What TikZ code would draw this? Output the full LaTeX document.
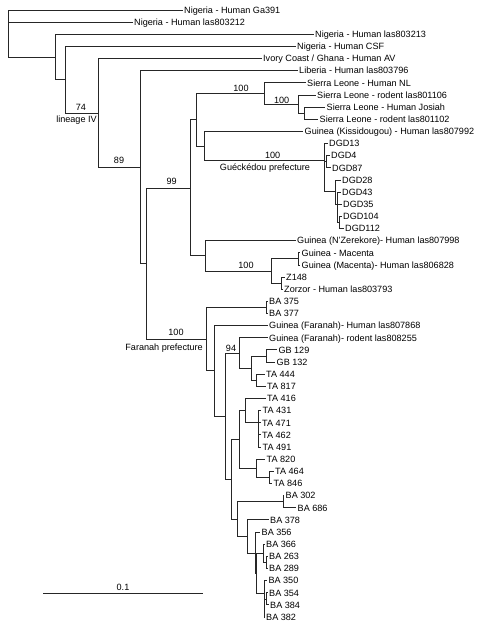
\documentclass[tikz,border=0pt]{standalone}
\usepackage{fontspec}
\setmainfont{Liberation Sans}
\tikzset{
  branch/.style={line width=0.9pt, black!85},
  leaf/.style={anchor=west, inner sep=1.5pt, text height=6.5pt, text depth=0pt},
  boot/.style={inner sep=0pt, text height=6.5pt, text depth=0pt},
}
\begin{document}
\begin{tikzpicture}[x=1pt, y=-1pt, font=\fontsize{9.1}{11}\selectfont]
            \useasboundingbox (0,0) rectangle (480,628);
            % Leaves
            \node[leaf] (ga391) at (182.5,10.0) {Nigeria - Human Ga391};
            \node[leaf] (l803212) at (132.5,22.1) {Nigeria - Human las803212};
            \node[leaf] (l803213) at (313.5,34.3) {Nigeria - Human las803213};
            \node[leaf] (csf) at (295.5,46.4) {Nigeria - Human CSF};
            \node[leaf] (av) at (261.5,58.6) {Ivory Coast / Ghana - Human AV};
            \node[leaf] (l803796) at (297.5,70.7) {Liberia - Human las803796};
            \node[leaf] (nl) at (305.5,82.8) {Sierra Leone - Human NL};
            \node[leaf] (l801106) at (315.5,95.0) {Sierra Leone - rodent las801106};
            \node[leaf] (josiah) at (325,107.1) {Sierra Leone - Human Josiah};
            \node[leaf] (l801102) at (318,119.3) {Sierra Leone - rodent las801102};
            \node[leaf] (l807992) at (303,131.4) {Guinea (Kissidougou) - Human las807992};
            \node[leaf] (dgd13) at (327.5,143.5) {DGD13};
            \node[leaf] (dgd4) at (329.5,155.7) {DGD4};
            \node[leaf] (dgd87) at (330.5,167.8) {DGD87};
            \node[leaf] (dgd28) at (340.5,180.0) {DGD28};
            \node[leaf] (dgd43) at (340.5,192.1) {DGD43};
            \node[leaf] (dgd35) at (341.5,204.2) {DGD35};
            \node[leaf] (dgd104) at (341.5,216.4) {DGD104};
            \node[leaf] (dgd112) at (343.5,228.5) {DGD112};
            \node[leaf] (l807998) at (295.5,240.7) {Guinea (N'Zerekore)- Human las807998};
            \node[leaf] (macenta) at (300,252.8) {Guinea - Macenta};
            \node[leaf] (l806828) at (300,265.0) {Guinea (Macenta)- Human las806828};
            \node[leaf] (z148) at (284.5,277.1) {Z148};
            \node[leaf] (l803793) at (282.5,289.2) {Zorzor - Human las803793};
            \node[leaf] (ba375) at (267.5,301.4) {BA 375};
            \node[leaf] (ba377) at (267.5,313.5) {BA 377};
            \node[leaf] (l807868) at (267.5,325.6) {Guinea (Faranah)- Human las807868};
            \node[leaf] (l808255) at (267.5,337.8) {Guinea (Faranah)- rodent las808255};
            \node[leaf] (gb129) at (276.8,349.9) {GB 129};
            \node[leaf] (gb132) at (275,362.1) {GB 132};
            \node[leaf] (ta444) at (264.5,374.2) {TA 444};
            \node[leaf] (ta817) at (265.5,386.4) {TA 817};
            \node[leaf] (ta416) at (265.5,398.5) {TA 416};
            \node[leaf] (ta431) at (261,410.6) {TA 431};
            \node[leaf] (ta471) at (260.5,422.8) {TA 471};
            \node[leaf] (ta462) at (260.5,434.9) {TA 462};
            \node[leaf] (ta491) at (261,447.1) {TA 491};
            \node[leaf] (ta820) at (265,459.2) {TA 820};
            \node[leaf] (ta464) at (273.5,471.4) {TA 464};
            \node[leaf] (ta846) at (272,483.5) {TA 846};
            \node[leaf] (ba302) at (284,495.6) {BA 302};
            \node[leaf] (ba686) at (296,507.8) {BA 686};
            \node[leaf] (ba378) at (268.5,519.9) {BA 378};
            \node[leaf] (ba356) at (260,532.1) {BA 356};
            \node[leaf] (ba366) at (264.5,544.2) {BA 366};
            \node[leaf] (ba263) at (267.5,556.4) {BA 263};
            \node[leaf] (ba289) at (267.5,568.5) {BA 289};
            \node[leaf] (ba350) at (266.8,580.6) {BA 350};
            \node[leaf] (ba354) at (267.5,592.8) {BA 354};
            \node[leaf] (ba384) at (268.5,604.9) {BA 384};
            \node[leaf] (ba382) at (264.5,617.1) {BA 382};

            % Inner nodes
            \coordinate (root) at (8,33.5);
            \coordinate (nA) at (55,57);
            \coordinate (nB) at (65,79);
            \coordinate (nC) at (98,113);
            \coordinate (nD) at (140,167);
            \coordinate (nE) at (146,263);
            \coordinate (nG) at (190.5,188);
            \coordinate (nH) at (196,119.5);
            \coordinate (nI) at (264,93);
            \coordinate (nJ) at (298,104);
            \coordinate (nK) at (304,113.2);
            \coordinate (nL) at (204,146);
            \coordinate (nM) at (324.5,160);
            \coordinate (nN) at (326.5,161.7);
            \coordinate (nO) at (335,191);
            \coordinate (nO2) at (337.5,204);
            \coordinate (nO3) at (339,222.5);
            \coordinate (nP) at (205.5,255.8);
            \coordinate (nQ) at (271,271);
            \coordinate (nR) at (298,258.9);
            \coordinate (nS) at (281.5,283.2);
            \coordinate (nF) at (206,339.5);
            \coordinate (nT) at (266,307.5);
            \coordinate (nU) at (214,370.9);
            \coordinate (nV) at (225,416);
            \coordinate (nW) at (239,353);
            \coordinate (nW2) at (251,368.2);
            \coordinate (nW3) at (266,356);
            \coordinate (nW4) at (256.5,380.3);
            \coordinate (nX) at (231,479);
            \coordinate (nY) at (239,439.3);
            \coordinate (nY1) at (245,410.6);
            \coordinate (nY2) at (258,422);
            \coordinate (nY3) at (256,468.3);
            \coordinate (nY4) at (269.3,477.5);
            \coordinate (nZ) at (237,519);
            \coordinate (nZ1) at (283.3,501.8);
            \coordinate (nZ2) at (247,536.5);
            \coordinate (nZ3) at (255,553);
            \coordinate (nZ4) at (256.7,573);
            \coordinate (nZ5) at (263.3,553.4);
            \coordinate (nZ7) at (266.7,562.5);
            \coordinate (nZ6) at (264,593);
            \coordinate (nZ8) at (266.7,599);

            % Branches
            \draw[branch] (root) |- (ga391) (root) |- (l803212) (root) |- (nA);
            \draw[branch] (nA) |- (l803213) (nA) |- (nB);
            \draw[branch] (nB) |- (csf) (nB) |- (nC);
            \draw[branch] (nC) |- (av) (nC) |- (nD);
            \draw[branch] (nD) |- (l803796) (nD) |- (nE);
            \draw[branch] (nE) |- (nG) (nE) |- (nF);
            \draw[branch] (nG) |- (nH) (nG) |- (nP);
            \draw[branch] (nH) |- (nI) (nH) |- (nL);
            \draw[branch] (nI) |- (nl) (nI) |- (nJ);
            \draw[branch] (nJ) |- (l801106) (nJ) |- (nK);
            \draw[branch] (nK) |- (josiah) (nK) |- (l801102);
            \draw[branch] (nL) |- (l807992) (nL) |- (nM);
            \draw[branch] (nM) |- (dgd13) (nM) |- (nN) (nM) |- (nO);
            \draw[branch] (nN) |- (dgd4) (nN) |- (dgd87);
            \draw[branch] (nO) |- (dgd28) (nO) |- (nO2);
            \draw[branch] (nO2) |- (dgd43) (nO2) |- (dgd35) (nO2) |- (nO3);
            \draw[branch] (nO3) |- (dgd104) (nO3) |- (dgd112);
            \draw[branch] (nP) |- (l807998) (nP) |- (nQ);
            \draw[branch] (nQ) |- (nR) (nQ) |- (nS);
            \draw[branch] (nR) |- (macenta) (nR) |- (l806828);
            \draw[branch] (nS) |- (z148) (nS) |- (l803793);
            \draw[branch] (nF) |- (nT) (nF) |- (nU);
            \draw[branch] (nT) |- (ba375) (nT) |- (ba377);
            \draw[branch] (nU) |- (l807868) (nU) |- (nV);
            \draw[branch] (nV) |- (nW) (nV) |- (nX);
            \draw[branch] (nW) |- (l808255) (nW) |- (nW2);
            \draw[branch] (nW2) |- (nW3) (nW2) |- (nW4);
            \draw[branch] (nW3) |- (gb129) (nW3) |- (gb132);
            \draw[branch] (nW4) |- (ta444) (nW4) |- (ta817);
            \draw[branch] (nX) |- (nY) (nX) |- (nZ);
            \draw[branch] (nY) |- (nY1) (nY) |- (nY3);
            \draw[branch] (nY1) |- (ta416) (nY1) |- (nY2);
            \draw[branch] (nY2) |- (ta431) (nY2) |- (ta471) (nY2) |- (ta462) (nY2) |- (ta491);
            \draw[branch] (nY3) |- (ta820) (nY3) |- (nY4);
            \draw[branch] (nY4) |- (ta464) (nY4) |- (ta846);
            \draw[branch] (nZ) |- (nZ1) (nZ) |- (nZ2);
            \draw[branch] (nZ1) |- (ba302) (nZ1) |- (ba686);
            \draw[branch] (nZ2) |- (ba378) (nZ2) |- (nZ3);
            \draw[branch] (nZ3) |- (ba356) (nZ3) |- (nZ4);
            \draw[branch] (nZ4) |- (nZ5) (nZ4) |- (nZ6);
            \draw[branch] (nZ5) |- (ba366) (nZ5) |- (nZ7);
            \draw[branch] (nZ7) |- (ba263) (nZ7) |- (ba289);
            \draw[branch] (nZ6) |- (ba350) (nZ6) |- (nZ8) (nZ6) |- (ba382);
            \draw[branch] (nZ8) |- (ba354) (nZ8) |- (ba384);

            % Support values and clade names
            \node[boot] (b74) at (81,107.7) {74};
            \node[boot] (lin4) at (76.5,119) {lineage IV};
            \node[boot] (b89) at (119,160) {89};
            \node[boot] (b99) at (171.7,181.7) {99};
            \node[boot] (bsl1) at (241,88.3) {100};
            \node[boot] (bsl2) at (281.7,100) {100};
            \node[boot] (bgue) at (272.7,155.7) {100};
            \node[boot] (gue) at (265,167.3) {Guéckédou prefecture};
            \node[boot] (bmac) at (246,265) {100};
            \node[boot] (bfar) at (176,332.7) {100};
            \node[boot, anchor=east] (far) at (203,347.3) {Faranah prefecture};
            \node[boot] (b94) at (231,348) {94};

            % Scale bar
            \coordinate (sb0) at (43,593);
            \coordinate (sb1) at (203,593);
            \draw[branch] (sb0) -- (sb1);
            \node[boot] (sbl) at (123,587.5) {0.1};
\end{tikzpicture}
\end{document}
